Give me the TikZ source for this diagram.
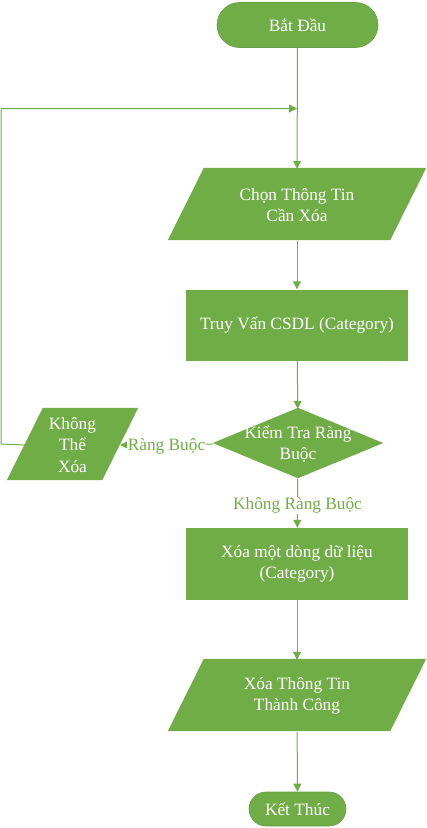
\documentclass[tikz,border=0pt]{standalone}
\usepackage{fontspec}
\setmainfont{Liberation Serif}
\usetikzlibrary{arrows.meta,shapes.misc,backgrounds}
\definecolor{gr}{HTML}{70AD47}
\tikzset{
  every node/.style={font=\fontsize{17.3}{21.5}\selectfont},
  txt/.style={text=white, align=center, inner sep=0pt},
  term/.style={txt, rounded rectangle, fill=gr, draw=gr!90!black, line width=0.6pt},
  procbox/.style={txt, rectangle, fill=gr, minimum width=222pt, minimum height=71pt},
  parabox/.style={txt, rectangle, minimum width=222pt, minimum height=72pt},
  arr/.style={draw=gr, line width=1pt, -{Triangle[length=8pt,width=8pt]}},
  ln/.style={draw=gr, line width=1pt},
  lbl/.style={text=gr, fill=white, inner sep=1pt, yshift=-2pt},
}
\begin{document}
\begin{tikzpicture}[x=1pt,y=-1pt]
\useasboundingbox (0,0) rectangle (427,828);
\node[term, minimum width=161pt, minimum height=45pt] (start) at (297.5,25) {Bắt Đầu};
\node[parabox] (chon) at (297,205) {Chọn Thông Tin\\Cần Xóa};
\node[procbox] (truy) at (297,325) {Truy Vấn CSDL (Category)};
\node[txt, minimum width=170pt, minimum height=70pt] (check) at (298,444) {Kiểm Tra Ràng\\Buộc};
\node[txt, minimum width=95pt, minimum height=72pt] (khong) at (72.5,445) {Không\\Thể\\Xóa};
\node[procbox, minimum height=72pt] (xoa) at (297,564) {Xóa một dòng dữ liệu\\(Category)};
\node[parabox] (xtt) at (297,696) {Xóa Thông Tin\\Thành Công};
\node[term, minimum width=97pt, minimum height=34pt] (ket) at (297.5,809) {Kết Thúc};
\coordinate (c1) at (1,444);
\coordinate (c2) at (1,108.5);
\coordinate (loopend) at (297,108.5);
\begin{scope}[on background layer]
  \foreach \n in {chon,xtt,khong}{
    \fill[gr] ([xshift=18pt,yshift=1pt]\n.north west) -- ([xshift=18pt,yshift=1pt]\n.north east)
      -- ([xshift=-18pt,yshift=1pt]\n.south east) -- ([xshift=-18pt,yshift=1pt]\n.south west) -- cycle;
  }
  \fill[gr] ([yshift=1pt]check.north) -- ([yshift=1pt]check.east) -- ([yshift=1pt]check.south) -- ([yshift=1pt]check.west) -- cycle;
\end{scope}
\draw[arr] (start) -- (chon);
\draw[arr] (chon) -- (truy);
\draw[arr] (truy) -- (check);
\draw[arr] (check.west) -- node[lbl]{Ràng Buộc} (khong.east);
\draw[arr] (check) -- node[lbl]{Không Ràng Buộc} (xoa);
\draw[arr] (xoa) -- (xtt);
\draw[arr] (xtt) -- (ket);
\draw[arr] (khong.west) -- (c1) -- (c2) -- (loopend);
\end{tikzpicture}
\end{document}
